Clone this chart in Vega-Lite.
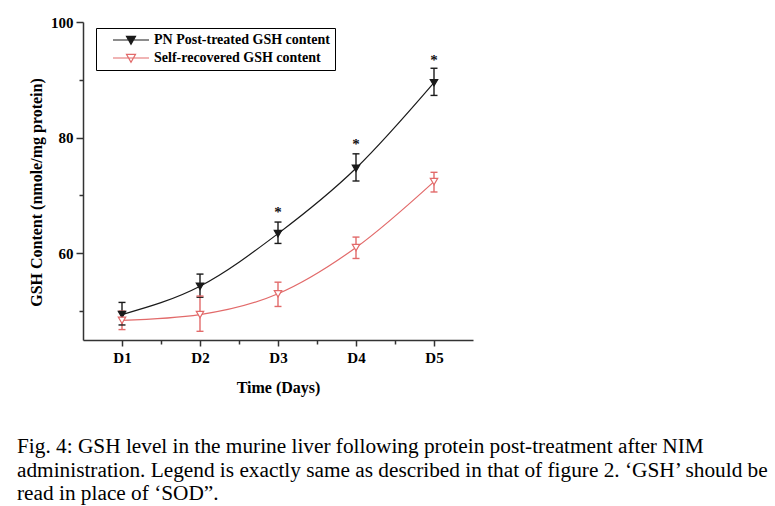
{
  "$schema": "https://vega.github.io/schema/vega-lite/v6.json",
  "width": 390,
  "height": 318,
  "autosize": {"type": "none"},
  "padding": {"left": 83, "top": 22, "right": 302, "bottom": 166},
  "background": "white",
  "config": {
    "view": {"stroke": null},
    "font": "Liberation Serif",
    "axis": {
      "labelFont": "Liberation Serif",
      "titleFont": "Liberation Serif",
      "labelFontWeight": "bold",
      "titleFontWeight": "bold",
      "labelColor": "black",
      "titleColor": "black",
      "domainColor": "#333333",
      "tickColor": "#333333",
      "domainWidth": 1.5,
      "tickWidth": 1.5,
      "grid": false
    }
  },
  "title": {
    "text": [
      "Fig. 4: GSH level in the murine liver following protein post-treatment after NIM",
      "administration. Legend is exactly same as described in that of figure 2. ‘GSH’ should be",
      "read in place of ‘SOD”."
    ],
    "orient": "bottom",
    "anchor": "start",
    "frame": "group",
    "font": "Liberation Serif",
    "fontSize": 21.3,
    "fontWeight": "normal",
    "color": "black",
    "lineHeight": 23.5,
    "dx": -66,
    "offset": 41
  },
  "data": {
    "values": [
      {"series": "PN Post-treated GSH content", "day": 1, "mean": 49.4, "lo": 47.6, "hi": 51.5, "star": null},
      {"series": "PN Post-treated GSH content", "day": 2, "mean": 54.3, "lo": 52.4, "hi": 56.4, "star": null},
      {"series": "PN Post-treated GSH content", "day": 3, "mean": 63.4, "lo": 61.7, "hi": 65.4, "star": 67.9},
      {"series": "PN Post-treated GSH content", "day": 4, "mean": 74.7, "lo": 72.5, "hi": 77.2, "star": 79.6},
      {"series": "PN Post-treated GSH content", "day": 5, "mean": 89.5, "lo": 87.3, "hi": 92.0, "star": 94.2},
      {"series": "Self-recovered GSH content", "day": 1, "mean": 48.4, "lo": 46.8, "hi": 50.0, "star": null},
      {"series": "Self-recovered GSH content", "day": 2, "mean": 49.4, "lo": 46.5, "hi": 52.6, "star": null},
      {"series": "Self-recovered GSH content", "day": 3, "mean": 53.0, "lo": 50.8, "hi": 55.0, "star": null},
      {"series": "Self-recovered GSH content", "day": 4, "mean": 61.0, "lo": 59.1, "hi": 62.8, "star": null},
      {"series": "Self-recovered GSH content", "day": 5, "mean": 72.4, "lo": 70.6, "hi": 74.0, "star": null}
    ]
  },
  "encoding": {
    "x": {
      "field": "day",
      "type": "quantitative",
      "scale": {"domain": [0.5, 5.5], "nice": false, "zero": false},
      "axis": {
        "title": "Time (Days)",
        "values": [1, 1.5, 2, 2.5, 3, 3.5, 4, 4.5, 5],
        "labelExpr": "datum.value % 1 === 0 ? 'D' + datum.value : ''",
        "tickSize": {"condition": {"test": "datum.value % 1 === 0", "value": 6}, "value": 4},
        "labelFontSize": 15,
        "titleFontSize": 16,
        "labelPadding": 4,
        "titlePadding": 14
      }
    }
  },
  "layer": [
    {
      "mark": {"type": "line", "interpolate": "monotone", "strokeWidth": 1.2},
      "encoding": {
        "y": {
          "field": "mean",
          "type": "quantitative",
          "title": "GSH Content (nmole/mg protein)",
          "scale": {"domain": [45, 100], "nice": false, "zero": false},
          "axis": {
            "title": "GSH Content (nmole/mg protein)",
            "values": [50, 60, 70, 80, 90, 100],
            "labelExpr": "datum.value % 20 === 0 ? datum.label : ''",
            "tickSize": {"condition": {"test": "datum.value % 20 === 0", "value": 7}, "value": 4},
            "labelFontSize": 15,
            "titleFontSize": 16,
            "labelPadding": 3,
            "titlePadding": 6,
            "titleY": 170
          }
        },
        "stroke": {"field": "series", "type": "nominal"}
      }
    },
    {
      "mark": {"type": "rule", "strokeWidth": 1.4},
      "encoding": {
        "y": {"field": "lo", "type": "quantitative", "title": "GSH Content (nmole/mg protein)"},
        "y2": {"field": "hi"},
        "stroke": {"field": "series", "type": "nominal"}
      }
    },
    {
      "mark": {"type": "point", "shape": "stroke", "size": 49, "strokeWidth": 1.4, "opacity": 1},
      "encoding": {
        "y": {"field": "lo", "type": "quantitative", "title": "GSH Content (nmole/mg protein)"},
        "stroke": {"field": "series", "type": "nominal"}
      }
    },
    {
      "mark": {"type": "point", "shape": "stroke", "size": 49, "strokeWidth": 1.4, "opacity": 1},
      "encoding": {
        "y": {"field": "hi", "type": "quantitative", "title": "GSH Content (nmole/mg protein)"},
        "stroke": {"field": "series", "type": "nominal"}
      }
    },
    {
      "mark": {"type": "point", "shape": "triangle-down", "filled": true, "size": 55, "strokeWidth": 1.2, "opacity": 1},
      "encoding": {
        "y": {"field": "mean", "type": "quantitative", "title": "GSH Content (nmole/mg protein)"},
        "stroke": {
          "field": "series",
          "type": "nominal",
          "scale": {"domain": ["PN Post-treated GSH content", "Self-recovered GSH content"], "range": ["#1a1a1a", "#e26a6a"]},
          "legend": {
            "title": null,
            "orient": "none",
            "legendX": 13,
            "legendY": 6,
            "symbolType": "M-3,0H3M-0.75,-0.6L0.75,-0.6L0,0.7Z",
            "symbolSize": 144,
            "symbolStrokeWidth": 1.2,
            "symbolOffset": 23,
            "labelOffset": 16,
            "labelLimit": 0,
            "strokeColor": "black",
            "padding": 5,
            "rowPadding": 4,
            "labelFont": "Liberation Serif",
            "labelFontSize": 14,
            "labelFontWeight": "bold",
            "labelColor": "black"
          }
        },
        "fill": {
          "field": "series",
          "type": "nominal",
          "scale": {"domain": ["PN Post-treated GSH content", "Self-recovered GSH content"], "range": ["#1a1a1a", "#ffffff"]},
          "legend": {
            "title": null,
            "orient": "none",
            "legendX": 13,
            "legendY": 6,
            "symbolType": "M-3,0H3M-0.75,-0.6L0.75,-0.6L0,0.7Z",
            "symbolSize": 144,
            "symbolStrokeWidth": 1.2,
            "symbolOffset": 23,
            "labelOffset": 16,
            "labelLimit": 0,
            "strokeColor": "black",
            "padding": 5,
            "rowPadding": 4,
            "labelFont": "Liberation Serif",
            "labelFontSize": 14,
            "labelFontWeight": "bold",
            "labelColor": "black"
          }
        }
      }
    },
    {
      "transform": [{"filter": "datum.star != null"}],
      "mark": {"type": "text", "text": "*", "fontSize": 15, "fontWeight": "bold", "font": "Liberation Serif", "fill": "#111111", "baseline": "middle", "dy": 4},
      "encoding": {
        "y": {"field": "star", "type": "quantitative", "title": "GSH Content (nmole/mg protein)"}
      }
    }
  ]
}
